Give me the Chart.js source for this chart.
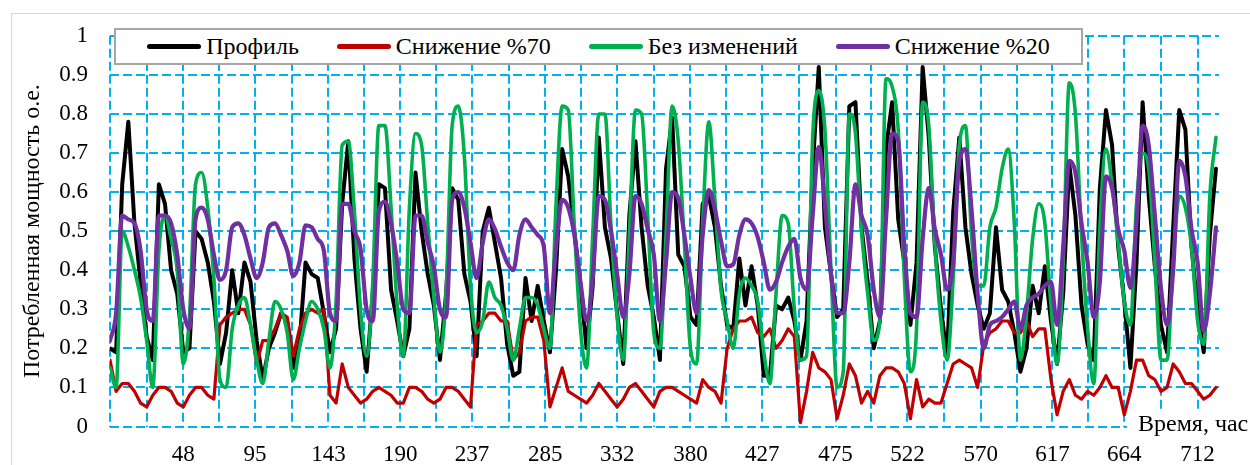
<!DOCTYPE html>
<html>
<head>
<meta charset="utf-8">
<script src="https://cdn.jsdelivr.net/npm/chart.js@4.4.0/dist/chart.umd.min.js"></script>
<style>
  html, body { margin: 0; padding: 0; background: #fff; overflow: hidden; }
  #wrap { position: relative; width: 1250px; height: 465px; overflow: hidden; }
  #frame { position: absolute; left: 11px; top: 13px; width: 1300px; height: 500px; border: 1px solid #d6d6d6; }
  #chart { position: absolute; left: 0; top: 0; }
  #legend {
    position: absolute; left: 114px; top: 28px; width: 965px; height: 33px;
    border: 2px solid #a6a6a6; background: #fff;
    display: flex; align-items: center; justify-content: center; gap: 38px;
    font-family: "Liberation Serif", "Times New Roman", Tinos, "DejaVu Serif", serif;
    font-size: 24px; color: #000;
  }
  #legend .item { display: flex; align-items: center; gap: 5px; white-space: nowrap; }
  #legend .swatch { width: 54px; height: 5px; border-radius: 3px; }
  #xtitle {
    position: absolute; left: 1127px; top: 411px; padding: 0 20px 6px 11px;
    background: #fff;
    font-family: "Liberation Serif", "Times New Roman", Tinos, "DejaVu Serif", serif;
    font-size: 24px; line-height: 24px; color: #000; white-space: nowrap;
  }
</style>
</head>
<body>
<div id="wrap">
  <div id="frame"></div>
  <canvas id="chart" width="1250" height="465"></canvas>
  <div id="legend"></div>
  <div id="xtitle">Время, час</div>
</div>
<script>
// hourly load over the month, one reading every 4 hours
const stepHours = 4;
const hourLabels = [48, 95, 143, 190, 237, 285, 332, 380, 427, 475, 522, 570, 617, 664, 712];
const seriesNames = ['Профиль', 'Снижение %70', 'Без изменений', 'Снижение %20'];

const profile = [
  0.20, 0.19, 0.62, 0.78, 0.52, 0.37, 0.23, 0.17, 0.62, 0.57,
  0.40, 0.34, 0.19, 0.20, 0.50, 0.48, 0.42, 0.32, 0.16, 0.24,
  0.40, 0.29, 0.42, 0.37, 0.22, 0.12, 0.20, 0.24, 0.29, 0.27,
  0.15, 0.21, 0.42, 0.39, 0.38, 0.29, 0.19, 0.25, 0.57, 0.73,
  0.43, 0.25, 0.14, 0.34, 0.62, 0.61, 0.35, 0.27, 0.18, 0.25,
  0.65, 0.50, 0.39, 0.31, 0.17, 0.34, 0.61, 0.58, 0.39, 0.32,
  0.18, 0.50, 0.56, 0.47, 0.38, 0.21, 0.13, 0.14, 0.38, 0.27,
  0.36, 0.27, 0.19, 0.40, 0.71, 0.64, 0.50, 0.36, 0.20, 0.36,
  0.74, 0.51, 0.43, 0.29, 0.16, 0.54, 0.73, 0.51, 0.36, 0.28,
  0.17, 0.66, 0.79, 0.44, 0.41, 0.28, 0.26, 0.57, 0.59, 0.51,
  0.36, 0.26, 0.25, 0.43, 0.31, 0.41, 0.31, 0.13, 0.13, 0.31,
  0.30, 0.33, 0.27, 0.17, 0.27, 0.66, 0.92, 0.51, 0.39, 0.28,
  0.30, 0.82, 0.83, 0.51, 0.37, 0.20, 0.27, 0.71, 0.83, 0.53,
  0.42, 0.26, 0.42, 0.92, 0.74, 0.46, 0.30, 0.18, 0.55, 0.74,
  0.51, 0.39, 0.31, 0.25, 0.29, 0.51, 0.35, 0.32, 0.24, 0.14,
  0.20, 0.36, 0.29, 0.41, 0.27, 0.16, 0.34, 0.67, 0.54, 0.31,
  0.21, 0.17, 0.61, 0.81, 0.72, 0.46, 0.32, 0.15, 0.42, 0.83,
  0.59, 0.41, 0.26, 0.19, 0.51, 0.81, 0.76, 0.46, 0.30, 0.19,
  0.49, 0.66
];

const cut70 = [
  0.17, 0.09, 0.11, 0.11, 0.09, 0.06, 0.05, 0.08, 0.10, 0.10,
  0.09, 0.06, 0.05, 0.08, 0.10, 0.10, 0.08, 0.07, 0.26, 0.28,
  0.29, 0.30, 0.30, 0.26, 0.16, 0.22, 0.22, 0.25, 0.29, 0.28,
  0.18, 0.25, 0.29, 0.30, 0.29, 0.30, 0.08, 0.06, 0.16, 0.10,
  0.08, 0.06, 0.07, 0.09, 0.10, 0.09, 0.08, 0.06, 0.06, 0.10,
  0.10, 0.09, 0.07, 0.06, 0.07, 0.10, 0.10, 0.09, 0.07, 0.05,
  0.26, 0.27, 0.29, 0.29, 0.27, 0.27, 0.17, 0.19, 0.27, 0.28,
  0.28, 0.22, 0.05, 0.10, 0.15, 0.09, 0.08, 0.07, 0.06, 0.08,
  0.11, 0.09, 0.07, 0.05, 0.07, 0.10, 0.11, 0.09, 0.07, 0.05,
  0.09, 0.10, 0.10, 0.09, 0.08, 0.07, 0.06, 0.12, 0.10, 0.09,
  0.06, 0.20, 0.25, 0.27, 0.27, 0.28, 0.24, 0.23, 0.25, 0.20,
  0.22, 0.25, 0.23, 0.01, 0.09, 0.19, 0.15, 0.14, 0.12, 0.02,
  0.08, 0.16, 0.13, 0.06, 0.09, 0.06, 0.13, 0.15, 0.15, 0.14,
  0.11, 0.02, 0.12, 0.05, 0.07, 0.06, 0.06, 0.11, 0.16, 0.17,
  0.16, 0.15, 0.10, 0.21, 0.24, 0.25, 0.27, 0.27, 0.24, 0.24,
  0.27, 0.23, 0.25, 0.25, 0.12, 0.03, 0.09, 0.12, 0.08, 0.07,
  0.09, 0.08, 0.10, 0.13, 0.10, 0.10, 0.03, 0.09, 0.17, 0.17,
  0.13, 0.12, 0.09, 0.10, 0.16, 0.14, 0.11, 0.11, 0.09, 0.07,
  0.08, 0.10
];

const unchanged = [
  0.15, 0.10, 0.50, 0.46, 0.40, 0.33, 0.22, 0.10, 0.45, 0.54,
  0.48, 0.40, 0.16, 0.28, 0.62, 0.65, 0.56, 0.38, 0.12, 0.10,
  0.25, 0.31, 0.33, 0.26, 0.17, 0.11, 0.22, 0.32, 0.30, 0.24,
  0.12, 0.20, 0.27, 0.32, 0.30, 0.25, 0.15, 0.32, 0.72, 0.73,
  0.55, 0.30, 0.18, 0.37, 0.77, 0.77, 0.56, 0.31, 0.18, 0.56,
  0.75, 0.72, 0.52, 0.33, 0.19, 0.34, 0.77, 0.82, 0.69, 0.36,
  0.24, 0.27, 0.37, 0.33, 0.31, 0.25, 0.17, 0.25, 0.33, 0.33,
  0.31, 0.25, 0.20, 0.57, 0.82, 0.81, 0.51, 0.25, 0.15, 0.49,
  0.80, 0.80, 0.51, 0.28, 0.17, 0.49, 0.81, 0.80, 0.54, 0.24,
  0.20, 0.49, 0.82, 0.73, 0.47, 0.20, 0.16, 0.52, 0.78, 0.58,
  0.35, 0.27, 0.20, 0.34, 0.38, 0.36, 0.32, 0.19, 0.11, 0.34,
  0.54, 0.52, 0.30, 0.17, 0.18, 0.74, 0.86, 0.76, 0.40, 0.10,
  0.14, 0.80, 0.75, 0.50, 0.34, 0.22, 0.27, 0.89, 0.87, 0.76,
  0.38, 0.14, 0.25, 0.83, 0.77, 0.47, 0.27, 0.17, 0.38, 0.72,
  0.77, 0.49, 0.36, 0.36, 0.51, 0.56, 0.66, 0.71, 0.52, 0.17,
  0.29, 0.48, 0.57, 0.52, 0.31, 0.16, 0.42, 0.88, 0.80, 0.49,
  0.25, 0.11, 0.51, 0.71, 0.62, 0.47, 0.32, 0.26, 0.57, 0.70,
  0.66, 0.42, 0.17, 0.17, 0.42, 0.59, 0.56, 0.46, 0.27, 0.21,
  0.59, 0.74
];

const cut20 = [
  0.22, 0.29, 0.54, 0.53, 0.52, 0.45, 0.30, 0.27, 0.54, 0.54,
  0.52, 0.44, 0.30, 0.25, 0.53, 0.56, 0.53, 0.44, 0.375, 0.40,
  0.51, 0.52, 0.49, 0.43, 0.38, 0.42, 0.51, 0.52, 0.49, 0.45,
  0.385, 0.42, 0.515, 0.51, 0.48, 0.45, 0.29, 0.27, 0.57, 0.57,
  0.50, 0.455, 0.30, 0.27, 0.55, 0.575, 0.52, 0.42, 0.30, 0.29,
  0.54, 0.54, 0.47, 0.41, 0.30, 0.28, 0.58, 0.60, 0.56, 0.47,
  0.38, 0.47, 0.53, 0.505, 0.46, 0.42, 0.40, 0.49, 0.53, 0.51,
  0.49, 0.46, 0.29, 0.46, 0.58, 0.56, 0.49, 0.37, 0.27, 0.38,
  0.59, 0.58, 0.50, 0.39, 0.28, 0.39, 0.59, 0.57, 0.505, 0.44,
  0.27, 0.42, 0.60, 0.585, 0.49, 0.38, 0.29, 0.49, 0.605, 0.555,
  0.475, 0.41, 0.415, 0.49, 0.53, 0.52, 0.485, 0.42, 0.35, 0.37,
  0.42, 0.46, 0.48, 0.38, 0.35, 0.54, 0.715, 0.57, 0.39, 0.29,
  0.29, 0.42, 0.62, 0.54, 0.49, 0.35, 0.28, 0.53, 0.75, 0.73,
  0.46, 0.29, 0.28, 0.48, 0.61, 0.505, 0.44, 0.35, 0.42, 0.68,
  0.71, 0.555, 0.34, 0.20, 0.26, 0.27, 0.28, 0.30, 0.32, 0.25,
  0.31, 0.33, 0.34, 0.36, 0.37, 0.26, 0.46, 0.68, 0.65, 0.52,
  0.42, 0.28, 0.37, 0.64, 0.61, 0.505, 0.45, 0.355, 0.52, 0.77,
  0.72, 0.54, 0.355, 0.26, 0.40, 0.68, 0.64, 0.505, 0.42, 0.245,
  0.34, 0.51
];

// one vertical grid line per day: labelled hours plus the midpoints between them
const gridHours = [0];
hourLabels.forEach((h, i) => {
  const prev = i ? hourLabels[i - 1] : 0;
  gridHours.push((prev + h) / 2, h);
});

const toPoints = (vals) => vals.map((v, i) => ({ x: i * stepHours, y: v }));

Chart.defaults.font.family = '"Liberation Serif", "Times New Roman", Tinos, "DejaVu Serif", serif';
Chart.defaults.color = '#000';

const gridStyle = { color: '#00b0f0', lineWidth: 2, drawTicks: false };
const borderStyle = { display: false, dash: [9, 4] };

const chart = new Chart(document.getElementById('chart'), {
  type: 'line',
  data: {
    datasets: [
      { label: seriesNames[0], data: toPoints(profile), borderColor: '#000000', borderWidth: 4, order: 4 },
      { label: seriesNames[1], data: toPoints(cut70), borderColor: '#c00000', borderWidth: 3.2, order: 3 },
      { label: seriesNames[2], data: toPoints(unchanged), borderColor: '#00b050', borderWidth: 3.6, order: 2, cubicInterpolationMode: 'monotone' },
      { label: seriesNames[3], data: toPoints(cut20), borderColor: '#7030a0', borderWidth: 4.2, order: 1, cubicInterpolationMode: 'monotone' },
    ],
  },
  options: {
    responsive: false,
    animation: false,
    devicePixelRatio: 1,
    layout: { padding: { left: 18, top: 27.5, right: 31, bottom: 0 } },
    elements: {
      point: { radius: 0 },
      line: { borderJoinStyle: 'round', borderCapStyle: 'round', tension: 0 },
    },
    plugins: { legend: { display: false }, tooltip: { enabled: false } },
    scales: {
      x: {
        type: 'linear',
        min: 0,
        max: 726,
        afterBuildTicks: (scale) => { scale.ticks = gridHours.map((v) => ({ value: v })); },
        afterFit: (scale) => { scale.height = 38.5; },
        ticks: {
          autoSkip: false,
          maxRotation: 0,
          padding: 15,
          font: { size: 23 },
          callback: (v) => (hourLabels.includes(v) ? String(v) : ''),
        },
        grid: gridStyle,
        border: borderStyle,
      },
      y: {
        min: 0,
        max: 1,
        afterFit: (scale) => { scale.width = 92; },
        ticks: {
          stepSize: 0.1,
          padding: 22,
          font: { size: 23 },
          callback: (v) => String(Number(v.toFixed(1))),
        },
        grid: gridStyle,
        border: borderStyle,
        title: { display: true, text: 'Потребленная мощность о.е.', font: { size: 24 }, padding: 0 },
      },
    },
  },
});

// legend box drawn over the top of the plot, in series order
const legendBox = document.getElementById('legend');
chart.data.datasets.forEach((ds) => {
  const item = document.createElement('div');
  item.className = 'item';
  const swatch = document.createElement('span');
  swatch.className = 'swatch';
  swatch.style.background = ds.borderColor;
  const text = document.createElement('span');
  text.textContent = ds.label;
  item.append(swatch, text);
  legendBox.appendChild(item);
});
</script>
</body>
</html>
